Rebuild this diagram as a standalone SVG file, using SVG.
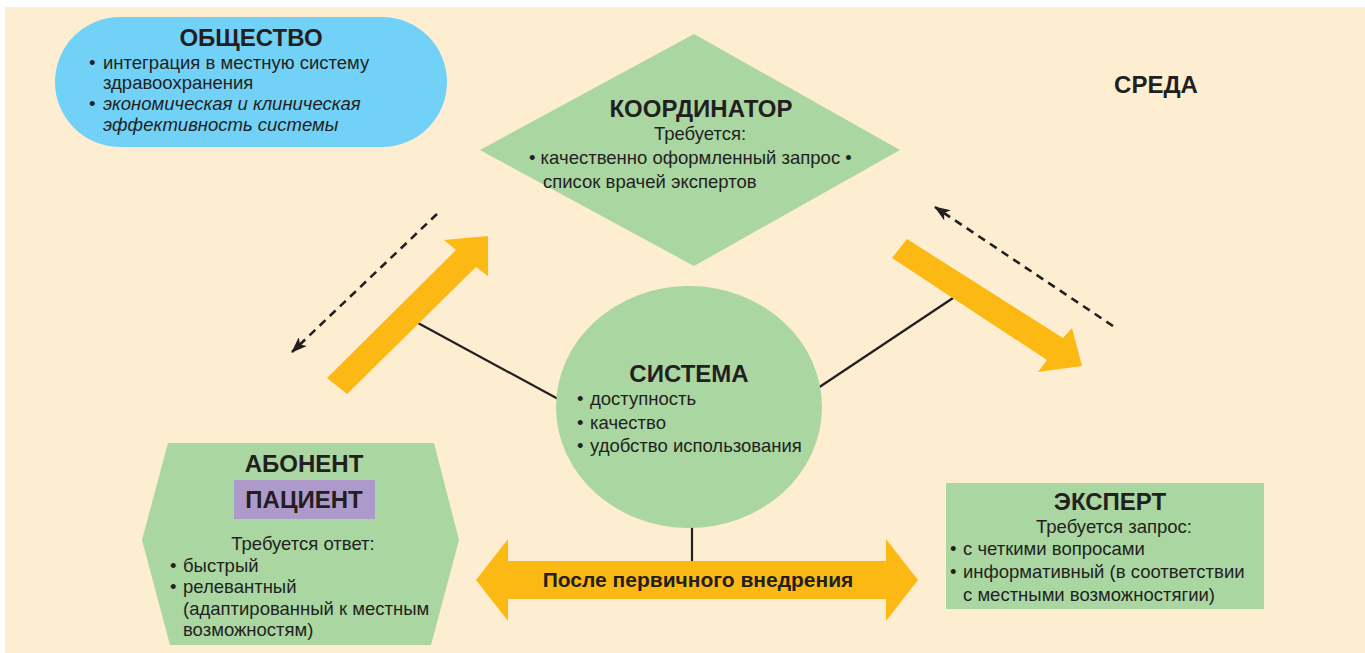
<svg xmlns="http://www.w3.org/2000/svg" width="1365" height="653" viewBox="0 0 1365 653">
<defs>
<style>
text{font-family:"Liberation Sans",Arial,sans-serif;fill:#231F20}
.h{font-weight:bold;font-size:24px;text-anchor:middle}
.t{font-size:18.5px}
.c{text-anchor:middle}
.i{font-style:italic}
.g{fill:#A9D6A1}
.o{fill:#FDB913}
.ln{stroke:#231F20;stroke-width:2.2;fill:none}
.d{stroke:#231F20;stroke-width:2.6;fill:none;stroke-dasharray:8 6}
</style>
<marker id="ah" viewBox="0 0 16 12" refX="15" refY="6" markerWidth="16" markerHeight="12" markerUnits="userSpaceOnUse" orient="auto">
<path d="M0,0 L16,6 L0,12 L4,6 Z" fill="#231F20"/>
</marker>
</defs>
<rect x="5" y="7" width="1360" height="646" fill="#FDEED2"/>

<g id="connectors">
<line class="ln" x1="418" y1="323" x2="560" y2="400"/>
<line class="ln" x1="953" y1="298" x2="818" y2="388"/>
<line class="ln" x1="692" y1="525" x2="692" y2="562"/>
<line class="d" x1="437" y1="214" x2="292" y2="352" marker-end="url(#ah)"/>
<line class="d" x1="1113" y1="326" x2="935" y2="207" marker-end="url(#ah)"/>
<polygon class="o" points="327,378 456,250 444,240 488,236 488,276 476,267 347,394"/>
<polygon class="o" points="907,239 1063,338 1072,328 1082,366 1038,372 1047,360 892,258"/>
</g>

<g id="obshchestvo">
<rect x="55" y="17" width="392" height="130" rx="65" ry="65" fill="#72D1F6"/>
<text class="h" x="251" y="46">ОБЩЕСТВО</text>
<text class="t" x="89" y="69">•</text>
<text class="t" x="103" y="69">интеграция в местную систему</text>
<text class="t" x="103" y="89">здравоохранения</text>
<text class="t" x="89" y="110">•</text>
<text class="t i" x="103" y="110">экономическая и клиническая</text>
<text class="t i" x="103" y="131">эффективность системы</text>
</g>

<g id="koordinator">
<polygon class="g" points="694,34 900,150 694,266 480,150"/>
<text class="h" x="701" y="117">КООРДИНАТОР</text>
<text class="t c" x="700" y="140">Требуется:</text>
<text class="t" x="529" y="164">• качественно оформленный запрос •</text>
<text class="t" x="543" y="188">список врачей экспертов</text>
</g>

<g id="sreda">
<text class="h" x="1156" y="93">СРЕДА</text>
</g>

<g id="sistema">
<ellipse class="g" cx="689" cy="407" rx="133" ry="121"/>
<text class="h" x="689" y="382">СИСТЕМА</text>
<text class="t" x="577" y="405">•</text>
<text class="t" x="590" y="405">доступность</text>
<text class="t" x="577" y="429">•</text>
<text class="t" x="590" y="429">качество</text>
<text class="t" x="577" y="452">•</text>
<text class="t" x="590" y="452">удобство использования</text>
</g>

<g id="abonent">
<polygon class="g" points="168,443 434,443 459,540 431,645 170,645 142,540"/>
<text class="h" x="304" y="472">АБОНЕНТ</text>
<rect x="234" y="480" width="141" height="39" fill="#AE9ACA"/>
<text class="h" x="304" y="508">ПАЦИЕНТ</text>
<text class="t c" x="303" y="550">Требуется ответ:</text>
<text class="t" x="170" y="572">•</text>
<text class="t" x="183" y="572">быстрый</text>
<text class="t" x="170" y="593">•</text>
<text class="t" x="183" y="593">релевантный</text>
<text class="t" x="183" y="615">(адаптированный к местным</text>
<text class="t" x="183" y="636">возможностям)</text>
</g>

<g id="ekspert">
<rect x="946" y="483" width="318" height="126" class="g"/>
<text class="h" x="1110" y="510">ЭКСПЕРТ</text>
<text class="t c" x="1114" y="533">Требуется запрос:</text>
<text class="t" x="950" y="555">•</text>
<text class="t" x="963" y="555">с четкими вопросами</text>
<text class="t" x="950" y="578">•</text>
<text class="t" x="963" y="578">информативный (в соответствии</text>
<text class="t" x="963" y="601">с местными возможностягии)</text>
</g>

<g id="vnedrenie">
<polygon class="o" points="476,580 508,539 508,561 886,561 886,539 918,580 886,621 886,599 508,599 508,621"/>
<text class="h" x="698" y="587" style="font-size:21px">После первичного внедрения</text>
</g>
</svg>
